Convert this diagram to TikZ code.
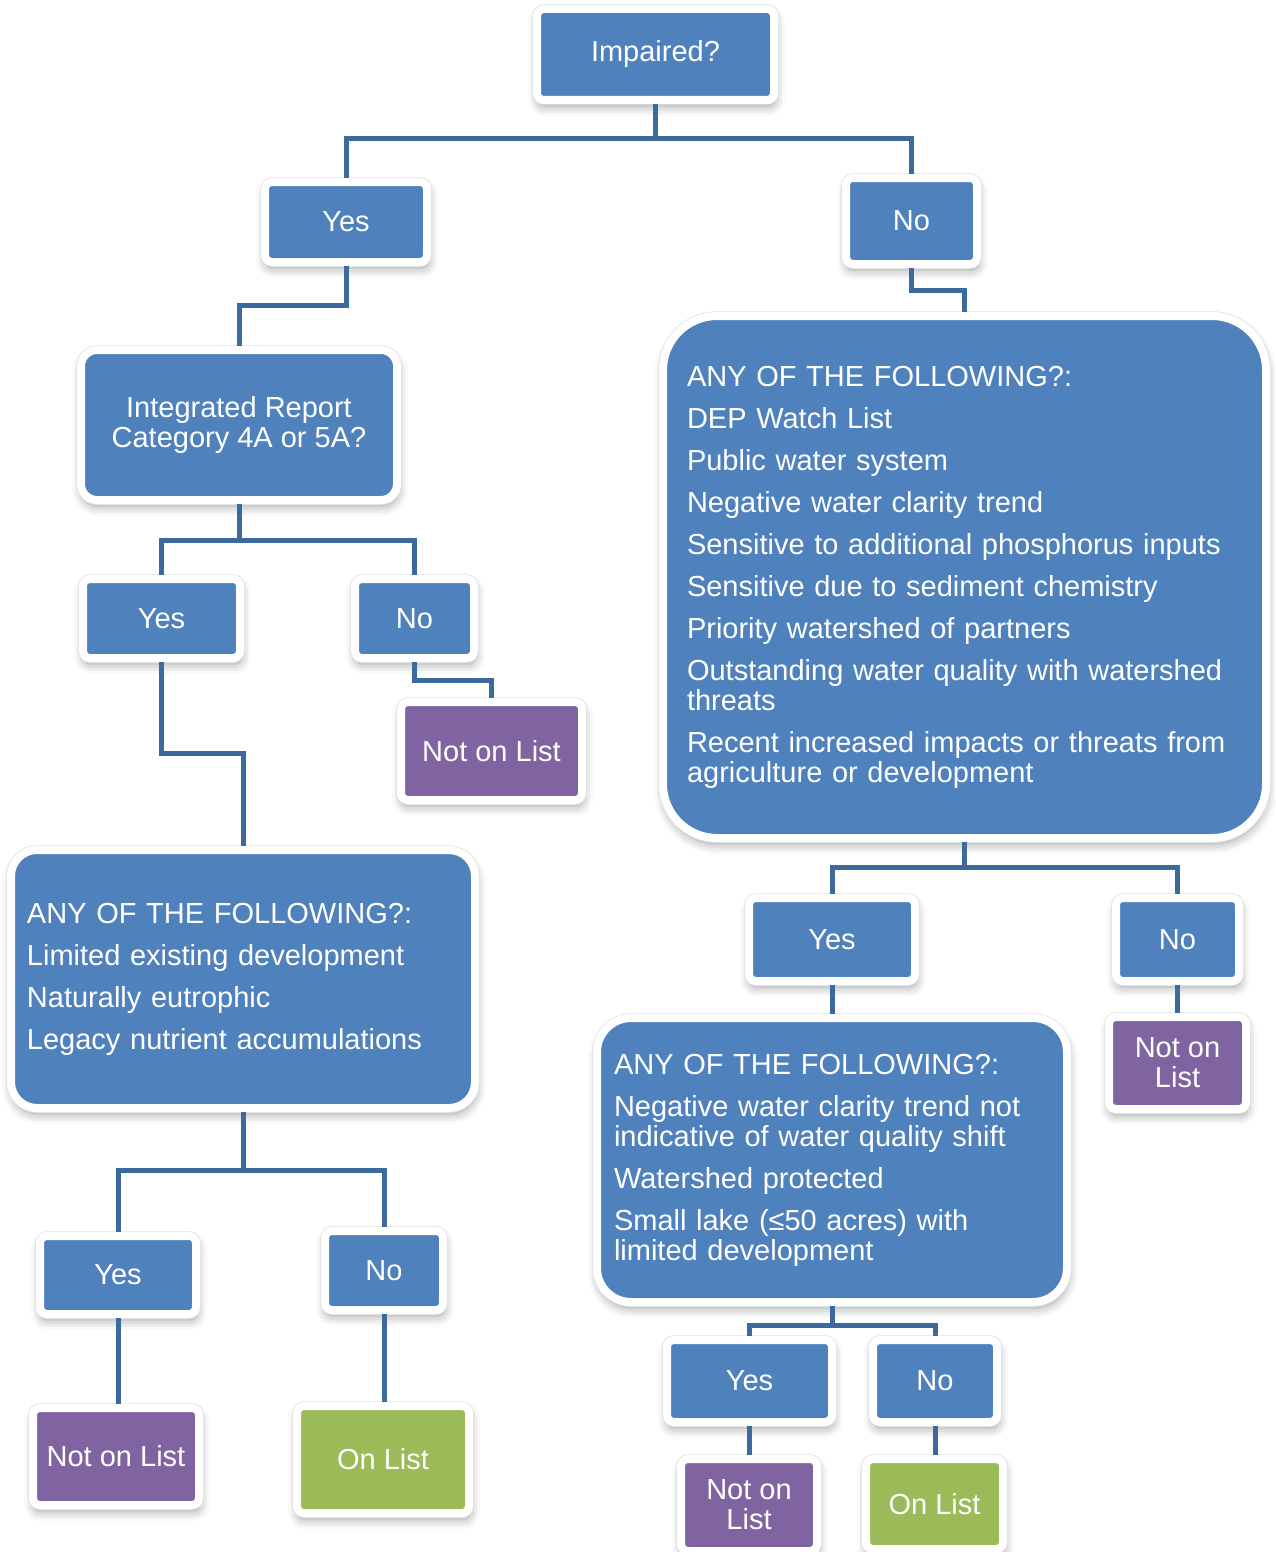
\documentclass[tikz,border=0pt]{standalone}
\usepackage{fontspec}
\setmainfont{Liberation Sans}
\usetikzlibrary{shadows.blur}
\definecolor{cblue}{HTML}{4F81BD}
\definecolor{cpurple}{HTML}{8064A2}
\definecolor{cgreen}{HTML}{9BBB59}
\definecolor{cline}{HTML}{3D6A9D}
\begin{document}
\begin{tikzpicture}[x=1pt,y=-1pt,
  box/.style={draw=white, line width=8pt, rounded corners=7pt, text=white,
    font=\fontsize{29}{30}\selectfont, align=center, inner sep=0pt,
    blur shadow={shadow xshift=1pt, shadow yshift=-6pt, shadow blur radius=10pt, shadow opacity=40},
    preaction={draw=black!12, line width=9.5pt}},
  bbox/.style={box, fill=cblue},
  pbox/.style={box, fill=cpurple},
  gbox/.style={box, fill=cgreen},
  sz/.style 2 args={minimum width=#1pt, minimum height=#2pt},
  listbox/.style={bbox, align=left},
  conn/.style={draw=cline, line width=5pt, line join=miter},
]
\useasboundingbox (0,0) rectangle (1276,1552);

% nodes
\node[bbox, sz={237}{91}] (imp) at (655.5,54.5) {Impaired?};
\node[bbox, sz={162}{80}] (yes1) at (346,222) {Yes};
\node[bbox, sz={131}{86}] (no1) at (911.5,221) {No};
\node[bbox, sz={316}{150}, rounded corners=16pt] (ir) at (239,425) {Integrated Report\\Category 4A or 5A?};
\node[bbox, sz={157}{79}] (yes2) at (161.5,618.5) {Yes};
\node[bbox, sz={119}{79}] (no2) at (414.5,618.5) {No};
\node[pbox, sz={181}{98}] (nol2) at (491.5,751) {Not on List};

\node[listbox, rounded corners=26pt, minimum height=258pt, text width=432pt, inner xsep=16pt] (bigL) at (243,979)
 {ANY OF THE FOLLOWING?:\\[12pt]
  Limited existing development\\[12pt]
  Naturally eutrophic\\[12pt]
  Legacy nutrient accumulations};

\node[bbox, sz={156}{78}] (yes3) at (118,1275) {Yes};
\node[bbox, sz={118}{79}] (no3) at (384,1270.5) {No};
\node[pbox, sz={166}{97}] (nol4) at (116,1456.5) {Not on List};
\node[gbox, sz={172}{107}] (on4) at (383,1459.5) {On List};

\node[listbox, rounded corners=54pt, minimum height=522pt, text width=555pt, inner xsep=24pt] (bigR) at (964.5,577)
 {ANY OF THE FOLLOWING?:\\[12pt]
  DEP Watch List\\[12pt]
  Public water system\\[12pt]
  Negative water clarity trend\\[12pt]
  Sensitive to additional phosphorus inputs\\[12pt]
  Sensitive due to sediment chemistry\\[12pt]
  Priority watershed of partners\\[12pt]
  Outstanding water quality with watershed\\threats\\[12pt]
  Recent increased impacts or threats from\\agriculture or development};

\node[bbox, sz={166}{83}] (yesR2) at (832,939.5) {Yes};
\node[bbox, sz={123}{83}] (noR2) at (1177.5,939.5) {No};
\node[pbox, sz={137}{92}] (nolR3) at (1177.5,1063) {Not on\\List};

\node[listbox, rounded corners=34pt, minimum height=284pt, text width=436pt, inner xsep=17pt] (midR) at (832,1160)
 {ANY OF THE FOLLOWING?:\\[12pt]
  Negative water clarity trend not\\indicative of water quality shift\\[12pt]
  Watershed protected\\[12pt]
  Small lake (≤50 acres) with\\limited development};

\node[bbox, sz={165}{82}] (yesR4) at (749.5,1381) {Yes};
\node[bbox, sz={124}{82}] (noR4) at (935,1381) {No};
\node[pbox, sz={136}{92}] (nolR5) at (749,1505) {Not on\\List};
\node[gbox, sz={137}{90}] (onR5) at (934.5,1504) {On List};

% connectors
\draw[conn] (imp.south) -- (imp.south |- 0,139) coordinate (j1) -| (yes1.north);
\draw[conn] (j1) -| (no1.north);
\draw[conn] (yes1.south) -- (yes1.south |- 0,305) -| (ir.north);
\draw[conn] (no1.south) -- (no1.south |- 0,290) -| (bigR.north);
\draw[conn] (ir.south) -- (ir.south |- 0,540) coordinate (j2) -| (yes2.north);
\draw[conn] (j2) -| (no2.north);
\draw[conn] (no2.south) -- (no2.south |- 0,680) -| (nol2.north);
\draw[conn] (yes2.south) -- (yes2.south |- 0,753) -| (bigL.north);
\draw[conn] (bigL.south) -- (bigL.south |- 0,1170) coordinate (j3) -| (yes3.north);
\draw[conn] (j3) -| (no3.north);
\draw[conn] (yes3.south) -- (yes3.south |- nol4.north);
\draw[conn] (no3.south) -- (no3.south |- on4.north);
\draw[conn] (bigR.south) -- (bigR.south |- 0,867) coordinate (j4) -| (yesR2.north);
\draw[conn] (j4) -| (noR2.north);
\draw[conn] (yesR2.south) -- (midR.north);
\draw[conn] (noR2.south) -- (nolR3.north);
\draw[conn] (midR.south) -- (midR.south |- 0,1325) coordinate (j5) -| (yesR4.north);
\draw[conn] (j5) -| (noR4.north);
\draw[conn] (yesR4.south) -- (yesR4.south |- nolR5.north);
\draw[conn] (noR4.south) -- (noR4.south |- onR5.north);
\end{tikzpicture}
\end{document}
